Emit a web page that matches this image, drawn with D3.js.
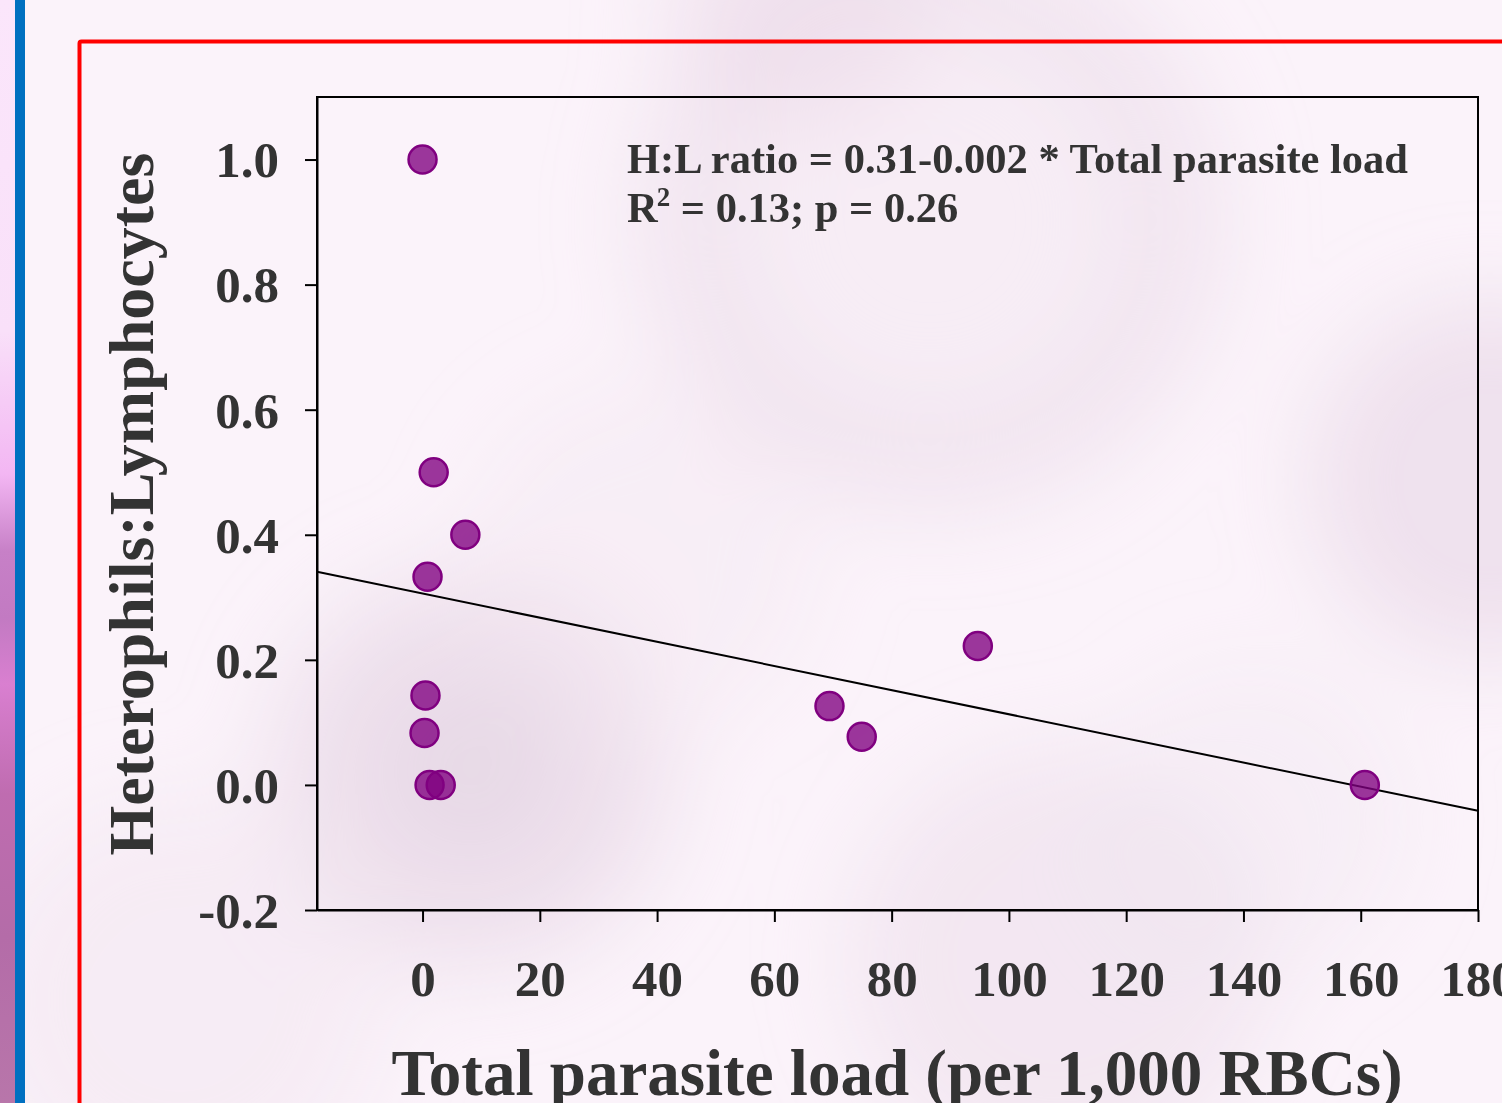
<!DOCTYPE html>
<html>
<head>
<meta charset="utf-8">
<script src="https://cdn.jsdelivr.net/npm/d3@7"></script>
<style>
  html, body { margin: 0; padding: 0; background: #fcf4fb; overflow: hidden; }
  svg { display: block; }
  text { font-family: "Liberation Serif", "Times New Roman", serif; font-weight: bold; fill: #333; }
</style>
</head>
<body>
<svg id="chart" width="1502" height="1103"></svg>
<script>
// ---- data ----
const parasiteLoad = [0, 1.9, 7.3, 0.85, 0.5, 0.34, 1.2, 3.1, 69.4, 74.9, 94.7, 160.7];
const hlRatio      = [1.0, 0.5, 0.4, 0.333, 0.143, 0.083, 0.0, 0.0, 0.126, 0.077, 0.222, 0.0];
const xTicks = [0, 20, 40, 60, 80, 100, 120, 140, 160, 180];
const xTickLabels = ["0", "20", "40", "60", "80", "100", "120", "140", "160", "180"];
const yTicks = [-0.2, 0.0, 0.2, 0.4, 0.6, 0.8, 1.0];
const yTickLabels = ["-0.2", "0.0", "0.2", "0.4", "0.6", "0.8", "1.0"];
const regIntercept = 0.306;
const regSlope = -0.00193;
const xDomain = [-18, 180];
const yDomain = [-0.2, 1.1];
const annotationLine1 = "H:L ratio = 0.31-0.002 * Total parasite load";
const annotationLine2 = ["R", "2", " = 0.13; p = 0.26"];
const xTitle = "Total parasite load (per 1,000 RBCs)";
const yTitle = "Heterophils:Lymphocytes";

const svg = d3.select("#chart");
const W = 1502, H = 1103;

// ---- background (decorative blurred cells) ----
const defs = svg.append("defs");
defs.append("filter").attr("id", "blur").attr("x", "-50%").attr("y", "-50%").attr("width", "200%").attr("height", "200%")
  .append("feGaussianBlur").attr("stdDeviation", 45);
const strip = defs.append("linearGradient").attr("id", "strip").attr("x1", 0).attr("y1", 0).attr("x2", 0).attr("y2", 1);
[[0, "#fbe6fb"], [0.3, "#f9e0f9"], [0.43, "#f3b6f3"], [0.5, "#c780c7"], [0.56, "#c27ac2"], [0.62, "#d97fd0"], [0.72, "#bf6cb0"], [0.85, "#b46ca8"], [1, "#b876aa"]]
  .forEach(([o, c]) => strip.append("stop").attr("offset", o).attr("stop-color", c));

svg.append("rect").attr("width", W).attr("height", H).attr("fill", "#fbf3fa");
const bg = svg.append("g").attr("filter", "url(#blur)");
const blobs = [
  {cx: 930, cy: 220, r: 290, c: "#e9d8e7", o: 0.55},
  {cx: 930, cy: 220, r: 190, c: "#f8eff6", o: 0.8},
  {cx: 470, cy: 770, r: 200, c: "#e6d5e5", o: 0.6},
  {cx: 470, cy: 770, r: 100, c: "#e2d1e2", o: 0.5},
  {cx: 1060, cy: 960, r: 210, c: "#ecdcea", o: 0.5},
  {cx: 1490, cy: 480, r: 180, c: "#e6d4e4", o: 0.55},
  {cx: 800, cy: 0, r: 130, c: "#ecdcea", o: 0.6},
  {cx: 180, cy: 1000, r: 200, c: "#f2e5f0", o: 0.5},
  {cx: 640, cy: 560, r: 170, c: "#f3e7f1", o: 0.4},
  {cx: 1250, cy: 820, r: 150, c: "#f1e5f0", o: 0.4}
];
bg.selectAll("circle").data(blobs).join("circle")
  .attr("cx", d => d.cx).attr("cy", d => d.cy).attr("r", d => d.r)
  .attr("fill", d => d.c).attr("opacity", d => d.o);

// left decorative strip and frames
svg.append("rect").attr("x", 0).attr("y", 0).attr("width", 15).attr("height", H).attr("fill", "url(#strip)");
svg.append("rect").attr("x", 15).attr("y", 0).attr("width", 10).attr("height", H).attr("fill", "#0070c0");
svg.append("rect").attr("x", 79.5).attr("y", 41.5).attr("width", 1500).attr("height", 1200)
  .attr("fill", "none").attr("stroke", "#ff0000").attr("stroke-width", 4).attr("rx", 2);

// ---- scales ----
const x = d3.scaleLinear().domain(xDomain).range([317, 1478]);
const y = d3.scaleLinear().domain(yDomain).range([910, 97]);

// plot frame
const g = svg.append("g");
g.append("rect").attr("x", x(xDomain[0])).attr("y", y(yDomain[1]))
  .attr("width", x(xDomain[1]) - x(xDomain[0])).attr("height", y(yDomain[0]) - y(yDomain[1]))
  .attr("fill", "none").attr("stroke", "#000").attr("stroke-width", 2);

// axes
const xAxis = d3.axisBottom(x).tickValues(xTicks).tickSize(12).tickSizeOuter(0)
  .tickFormat((d, i) => xTickLabels[i]).tickPadding(40);
const gx = g.append("g").attr("transform", `translate(0,${y(yDomain[0])})`).call(xAxis);
const yAxis = d3.axisLeft(y).tickValues(yTicks).tickSize(12).tickSizeOuter(0)
  .tickFormat((d, i) => yTickLabels[i]).tickPadding(26);
const gy = g.append("g").attr("transform", `translate(${x(xDomain[0])},0)`).call(yAxis);
[gx, gy].forEach(a => {
  a.select(".domain").attr("stroke", "#000").attr("stroke-width", 2);
  a.selectAll(".tick line").attr("stroke", "#000").attr("stroke-width", 2);
  a.selectAll(".tick text").attr("font-family", '"Liberation Serif", "Times New Roman", serif')
    .attr("font-weight", "bold").attr("font-size", 51).attr("fill", "#333");
});
gx.selectAll(".tick text").attr("dy", null).attr("y", 86).attr("dominant-baseline", "auto");
gy.selectAll(".tick text").attr("dy", "0.34em");

// regression line
g.append("line")
  .attr("x1", x(xDomain[0])).attr("y1", y(regIntercept + regSlope * xDomain[0]))
  .attr("x2", x(xDomain[1])).attr("y2", y(regIntercept + regSlope * xDomain[1]))
  .attr("stroke", "#000").attr("stroke-width", 2);

// points
const pts = parasiteLoad.map((v, i) => ({x: v, y: hlRatio[i]}));
g.selectAll("circle.pt").data(pts).join("circle").attr("class", "pt")
  .attr("cx", d => x(d.x)).attr("cy", d => y(d.y)).attr("r", 14)
  .attr("fill", "#800080").attr("fill-opacity", 0.78)
  .attr("stroke", "#800080").attr("stroke-width", 2.5);

// annotation
g.append("text").attr("x", 627).attr("y", 173).attr("font-size", 42.5).text(annotationLine1);
const t2 = g.append("text").attr("x", 627).attr("y", 222).attr("font-size", 42.5);
t2.append("tspan").text(annotationLine2[0]);
t2.append("tspan").attr("font-size", 27).attr("dy", -16).attr("dx", -1).text(annotationLine2[1]);
t2.append("tspan").attr("dy", 16).text(annotationLine2[2]);

// axis titles
svg.append("text").attr("x", 897).attr("y", 1095).attr("text-anchor", "middle").attr("font-size", 65).text(xTitle);
svg.append("text").attr("transform", "translate(153,504) rotate(-90)").attr("text-anchor", "middle")
  .attr("font-size", 64).text(yTitle);
</script>
</body>
</html>
